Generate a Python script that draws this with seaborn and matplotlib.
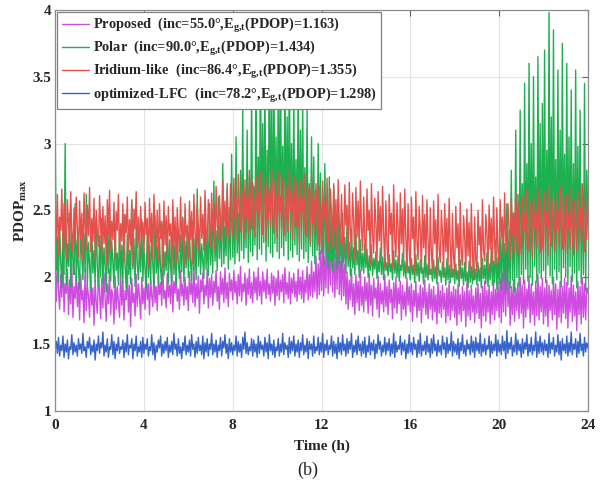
import numpy as np
import pandas as pd
import matplotlib
matplotlib.use("Agg")
import matplotlib.pyplot as plt
import seaborn as sns

# time axis (h), one sample every 3 min
time_h = np.round(np.arange(0, 24.001, 0.05), 2)

# PDOP_max (one row = one hour)
proposed = [
    2.08, 1.82, 2.15, 1.90, 1.76, 2.02, 1.85, 2.20, 1.74, 1.95, 1.88, 2.06, 1.72, 1.98, 1.80, 2.10, 1.70, 1.93, 1.84, 2.04,
    1.78, 1.96, 1.68, 2.02, 1.83, 1.90, 1.66, 2.07, 1.75, 1.94, 1.86, 1.70, 2.00, 1.79, 1.92, 1.64, 1.98, 1.81, 1.73, 2.05,
    1.87, 1.69, 1.99, 1.77, 2.03, 1.84, 1.67, 1.95, 1.80, 2.06, 1.72, 1.91, 1.85, 1.65, 2.01, 1.76, 1.93, 1.82, 1.70, 2.04,
    1.79, 1.97, 1.68, 1.90, 1.83, 2.05, 1.74, 1.94, 1.63, 1.99, 1.81, 1.88, 1.71, 2.02, 1.78, 1.95, 1.85, 1.69, 2.00, 1.80,
    1.92, 1.76, 2.04, 1.83, 1.95, 1.72, 1.99, 1.86, 1.78, 2.06, 1.81, 1.93, 1.75, 2.01, 1.87, 1.96, 1.79, 2.05, 1.84, 1.90,
    1.77, 2.03, 1.85, 1.94, 1.80, 2.07, 1.74, 1.97, 1.88, 2.02, 1.82, 1.91, 1.76, 2.05, 1.86, 1.95, 1.79, 2.00, 1.83, 1.93,
    1.75, 2.04, 1.87, 1.96, 1.81, 2.08, 1.78, 1.95, 1.84, 2.01, 1.73, 1.98, 1.89, 2.03, 1.80, 1.94, 1.86, 2.06, 1.77, 1.99,
    1.85, 2.02, 1.79, 1.97, 1.88, 2.05, 1.82, 1.93, 1.76, 2.04, 1.87, 1.99, 1.81, 2.07, 1.84, 1.96, 1.78, 2.03, 1.89, 1.98,
    1.83, 2.05, 1.88, 1.97, 1.80, 2.02, 1.86, 2.08, 1.82, 1.95, 1.89, 2.03, 1.79, 1.99, 1.87, 2.06, 1.84, 1.96, 1.81, 2.04,
    1.88, 2.00, 1.83, 2.07, 1.86, 1.97, 1.80, 2.04, 1.89, 1.98, 1.84, 2.06, 1.87, 1.95, 1.82, 2.03, 1.88, 2.01, 1.79, 1.99,
    1.86, 2.05, 1.83, 1.98, 1.89, 2.02, 1.81, 2.07, 1.87, 1.96, 1.84, 2.04, 1.80, 1.99, 1.88, 2.03, 1.85, 1.97, 1.82, 2.06,
    1.87, 2.00, 1.84, 2.05, 1.81, 1.98, 1.88, 2.08, 1.83, 2.02, 1.86, 2.12, 1.85, 2.04, 1.89, 2.16, 1.84, 2.10, 1.87, 2.20,
    1.90, 2.28, 1.86, 2.15, 1.92, 2.38, 1.88, 2.22, 1.94, 2.45, 1.89, 2.30, 1.85, 2.18, 1.91, 2.35, 1.87, 2.12, 1.83, 2.25,
    1.86, 2.10, 1.80, 2.04, 1.76, 1.98, 1.83, 2.06, 1.78, 1.95, 1.72, 2.02, 1.81, 1.97, 1.75, 2.05, 1.79, 1.93, 1.74, 2.00,
    1.82, 1.96, 1.73, 2.03, 1.79, 1.94, 1.71, 1.99, 1.84, 1.92, 1.76, 2.01, 1.70, 1.95, 1.80, 1.90, 1.74, 2.02, 1.78, 1.93,
    1.72, 1.98, 1.81, 1.91, 1.69, 1.96, 1.77, 2.00, 1.73, 1.92, 1.80, 1.97, 1.68, 1.94, 1.76, 1.89, 1.71, 1.99, 1.79, 1.93,
    1.74, 1.95, 1.67, 1.90, 1.78, 1.97, 1.70, 1.88, 1.75, 1.94, 1.66, 1.92, 1.77, 1.98, 1.72, 1.89, 1.69, 1.95, 1.76, 1.91,
    1.68, 1.93, 1.74, 1.87, 1.65, 1.96, 1.73, 1.90, 1.70, 1.94, 1.76, 1.88, 1.66, 1.92, 1.71, 1.97, 1.68, 1.89, 1.75, 1.93,
    1.70, 1.91, 1.64, 1.95, 1.72, 1.87, 1.67, 1.93, 1.75, 1.89, 1.63, 1.96, 1.71, 1.90, 1.68, 1.94, 1.74, 1.86, 1.66, 1.92,
    1.73, 1.95, 1.69, 1.88, 1.62, 1.93, 1.71, 1.97, 1.67, 1.90, 1.74, 1.94, 1.65, 1.89, 1.72, 1.98, 1.68, 1.91, 1.75, 1.96,
    1.70, 1.99, 1.66, 2.03, 1.74, 2.12, 1.71, 2.22, 1.78, 1.97, 1.64, 1.93, 1.72, 1.98, 1.67, 1.92, 1.75, 1.96, 1.69, 2.00,
    1.73, 1.94, 1.62, 1.98, 1.70, 1.91, 1.76, 2.01, 1.66, 1.95, 1.72, 1.89, 1.64, 1.97, 1.71, 2.02, 1.68, 1.93, 1.74, 1.99,
    1.65, 1.92, 1.71, 1.98, 1.63, 1.94, 1.75, 1.90, 1.68, 2.00, 1.72, 1.95, 1.61, 1.91, 1.70, 1.97, 1.66, 1.93, 1.73, 1.99,
    1.69, 1.96, 1.62, 1.92, 1.74, 2.01, 1.67, 1.94, 1.71, 1.89, 1.60, 1.97, 1.72, 1.93, 1.65, 1.99, 1.70, 1.95, 1.68, 1.92,
    1.88,
]

polar = [
    3.18, 2.05, 2.30, 1.96, 2.42, 2.10, 1.92, 2.38, 2.02, 3.00, 1.95, 2.25, 2.08, 2.48, 1.93, 2.34, 2.12, 2.02, 2.55, 1.97,
    2.28, 2.06, 1.91, 2.40, 2.15, 1.98, 2.33, 2.04, 2.62, 1.94, 2.26, 2.10, 1.90, 2.37, 2.03, 2.20, 1.96, 2.45, 2.07, 1.93,
    2.31, 2.00, 2.44, 1.95, 2.22, 2.09, 1.89, 2.35, 2.03, 2.52, 1.97, 2.27, 2.11, 1.92, 2.41, 2.05, 2.18, 1.94, 2.36, 2.01,
    2.24, 1.96, 2.47, 2.08, 1.91, 2.32, 2.02, 2.20, 1.95, 2.58, 2.06, 2.29, 1.93, 2.39, 2.10, 1.98, 2.26, 2.04, 2.43, 1.97,
    2.21, 2.07, 1.92, 2.38, 2.00, 2.25, 1.95, 2.34, 2.09, 1.93, 2.46, 2.03, 2.23, 1.96, 2.30, 2.06, 1.94, 2.40, 2.01, 2.19,
    2.05, 2.37, 1.95, 2.28, 2.08, 1.97, 2.50, 2.02, 2.24, 1.94, 2.35, 2.10, 1.99, 2.31, 2.04, 2.45, 1.96, 2.27, 2.07, 2.39,
    2.00, 2.33, 2.11, 1.97, 2.42, 2.05, 2.29, 1.98, 2.66, 2.08, 2.36, 2.02, 2.25, 2.12, 1.99, 2.48, 2.06, 2.31, 2.01, 2.55,
    2.09, 2.40, 2.03, 2.72, 2.12, 2.35, 2.05, 2.60, 2.14, 2.44, 2.08, 2.85, 2.10, 2.38, 2.16, 2.70, 2.06, 2.52, 2.13, 2.92,
    2.15, 2.58, 2.10, 3.05, 2.18, 2.48, 2.12, 2.80, 2.20, 3.25, 2.14, 2.62, 2.22, 3.10, 2.11, 2.75, 2.19, 3.40, 2.16, 2.68,
    2.24, 3.60, 2.13, 2.90, 2.21, 3.80, 2.17, 3.15, 2.26, 3.50, 2.12, 2.95, 2.23, 3.95, 2.18, 3.30, 2.15, 3.70, 2.25, 3.05,
    2.19, 3.45, 2.14, 3.85, 2.22, 2.98, 2.16, 3.60, 2.27, 3.20, 2.13, 3.75, 2.20, 3.00, 2.15, 3.40, 2.24, 2.88, 2.17, 3.55,
    2.12, 3.10, 2.21, 3.35, 2.14, 2.82, 2.19, 3.25, 2.11, 2.70, 2.23, 3.05, 2.16, 2.90, 2.10, 2.65, 2.20, 3.00, 2.13, 2.78,
    2.18, 2.60, 2.09, 2.85, 2.15, 2.50, 2.07, 2.75, 2.12, 2.45, 2.05, 2.68, 2.14, 2.40, 2.06, 2.58, 2.10, 2.35, 2.04, 2.48,
    2.11, 2.30, 2.03, 2.42, 2.08, 2.26, 2.01, 2.36, 2.07, 2.22, 2.02, 2.33, 2.09, 2.20, 2.00, 2.28, 2.05, 2.18, 2.03, 2.25,
    2.07, 2.21, 2.00, 2.16, 2.05, 2.24, 2.01, 2.14, 2.06, 2.19, 1.99, 2.12, 2.04, 2.22, 2.02, 2.15, 1.98, 2.18, 2.05, 2.11,
    2.01, 2.17, 2.04, 2.10, 1.98, 2.20, 2.03, 2.13, 2.00, 2.16, 1.97, 2.09, 2.05, 2.18, 2.01, 2.12, 1.99, 2.15, 2.03, 2.08,
    1.98, 2.14, 2.02, 2.09, 1.96, 2.17, 2.01, 2.11, 1.97, 2.13, 2.03, 2.07, 1.95, 2.16, 2.00, 2.10, 1.98, 2.12, 2.02, 2.06,
    1.97, 2.13, 1.99, 2.08, 1.95, 2.15, 2.01, 2.05, 1.96, 2.11, 2.00, 2.07, 1.94, 2.14, 1.98, 2.09, 1.96, 2.12, 2.00, 2.06,
    1.95, 2.10, 1.98, 2.05, 1.93, 2.13, 1.99, 2.07, 1.94, 2.11, 1.97, 2.04, 1.92, 2.12, 1.96, 2.08, 1.95, 2.15, 1.98, 2.06,
    1.94, 2.11, 1.97, 2.07, 1.92, 2.14, 1.99, 2.09, 1.95, 2.18, 1.93, 2.10, 1.98, 2.22, 1.94, 2.12, 1.96, 2.28, 1.91, 2.15,
    1.95, 2.30, 1.90, 2.42, 1.97, 2.25, 1.88, 2.55, 1.96, 2.35, 1.92, 2.80, 1.98, 2.48, 1.89, 3.10, 2.00, 2.62, 1.93, 3.25,
    2.02, 2.70, 1.95, 3.45, 2.06, 2.85, 1.97, 3.60, 2.00, 3.00, 1.94, 3.50, 2.08, 2.75, 1.96, 3.65, 2.03, 3.15, 1.99, 3.30,
    2.05, 3.70, 1.96, 2.95, 2.09, 3.98, 2.01, 3.20, 1.95, 3.85, 2.06, 2.88, 1.98, 3.55, 2.04, 3.10, 1.93, 3.75, 2.07, 2.92,
    2.00, 3.60, 1.94, 3.05, 2.08, 3.40, 1.97, 2.85, 2.03, 3.55, 1.92, 2.98, 2.05, 3.25, 1.95, 2.70, 2.02, 3.45, 1.90, 2.80,
    2.45,
]

iridium = [
    2.50, 2.28, 2.62, 2.17, 2.45, 2.35, 2.66, 2.20, 2.55, 2.30, 2.14, 2.58, 2.40, 2.22, 2.64, 2.33, 2.18, 2.52, 2.26, 2.60,
    2.38, 2.15, 2.57, 2.29, 2.48, 2.12, 2.63, 2.36, 2.21, 2.54, 2.31, 2.67, 2.19, 2.44, 2.27, 2.59, 2.13, 2.50, 2.34, 2.23,
    2.61, 2.37, 2.16, 2.53, 2.25, 2.46, 2.10, 2.58, 2.32, 2.65, 2.20, 2.42, 2.28, 2.56, 2.14, 2.49, 2.35, 2.62, 2.18, 2.40,
    2.27, 2.55, 2.11, 2.47, 2.33, 2.60, 2.19, 2.43, 2.24, 2.57, 2.09, 2.51, 2.36, 2.64, 2.22, 2.45, 2.15, 2.53, 2.30, 2.41,
    2.18, 2.56, 2.32, 2.44, 2.08, 2.59, 2.26, 2.48, 2.14, 2.62, 2.35, 2.21, 2.50, 2.12, 2.55, 2.29, 2.42, 2.07, 2.57, 2.24,
    2.46, 2.16, 2.53, 2.31, 2.40, 2.06, 2.58, 2.23, 2.45, 2.11, 2.52, 2.34, 2.19, 2.60, 2.27, 2.43, 2.09, 2.55, 2.30, 2.38,
    2.14, 2.57, 2.28, 2.49, 2.10, 2.62, 2.33, 2.22, 2.54, 2.37, 2.17, 2.60, 2.29, 2.47, 2.20, 2.65, 2.36, 2.25, 2.58, 2.41,
    2.23, 2.63, 2.35, 2.55, 2.19, 2.68, 2.40, 2.28, 2.61, 2.44, 2.26, 2.72, 2.38, 2.57, 2.30, 2.66, 2.42, 2.27, 2.70, 2.47,
    2.31, 2.74, 2.45, 2.60, 2.28, 2.77, 2.50, 2.34, 2.68, 2.52, 2.29, 2.73, 2.43, 2.62, 2.33, 2.80, 2.48, 2.36, 2.71, 2.55,
    2.30, 2.76, 2.49, 2.63, 2.35, 2.79, 2.46, 2.32, 2.70, 2.54, 2.27, 2.75, 2.44, 2.66, 2.38, 2.82, 2.51, 2.33, 2.72, 2.57,
    2.29, 2.78, 2.47, 2.61, 2.36, 2.74, 2.52, 2.31, 2.69, 2.45, 2.34, 2.80, 2.50, 2.64, 2.28, 2.76, 2.43, 2.37, 2.71, 2.53,
    2.26, 2.73, 2.48, 2.59, 2.32, 2.77, 2.42, 2.30, 2.67, 2.51, 2.25, 2.75, 2.40, 2.63, 2.33, 2.70, 2.46, 2.24, 2.68, 2.39,
    2.21, 2.72, 2.44, 2.56, 2.27, 2.74, 2.37, 2.19, 2.66, 2.47, 2.23, 2.70, 2.35, 2.58, 2.16, 2.73, 2.41, 2.25, 2.62, 2.30,
    2.18, 2.69, 2.39, 2.54, 2.14, 2.71, 2.34, 2.22, 2.63, 2.42, 2.12, 2.67, 2.30, 2.57, 2.17, 2.72, 2.37, 2.20, 2.60, 2.28,
    2.13, 2.66, 2.35, 2.50, 2.09, 2.70, 2.31, 2.18, 2.59, 2.40, 2.11, 2.64, 2.27, 2.53, 2.15, 2.68, 2.33, 2.07, 2.57, 2.24,
    2.10, 2.62, 2.32, 2.48, 2.06, 2.69, 2.28, 2.15, 2.56, 2.38, 2.08, 2.63, 2.25, 2.51, 2.12, 2.66, 2.30, 2.04, 2.55, 2.21,
    2.07, 2.60, 2.29, 2.45, 2.03, 2.64, 2.26, 2.13, 2.53, 2.35, 2.05, 2.61, 2.22, 2.47, 2.10, 2.58, 2.27, 2.02, 2.52, 2.18,
    2.06, 2.57, 2.25, 2.43, 2.01, 2.62, 2.21, 2.11, 2.50, 2.32, 2.03, 2.55, 2.19, 2.44, 2.08, 2.59, 2.24, 2.00, 2.48, 2.15,
    2.04, 2.53, 2.22, 2.40, 1.99, 2.56, 2.18, 2.09, 2.46, 2.30, 2.02, 2.51, 2.16, 2.41, 2.06, 2.55, 2.20, 1.98, 2.45, 2.13,
    2.05, 2.50, 2.24, 2.38, 2.01, 2.58, 2.20, 2.12, 2.47, 2.33, 2.04, 2.54, 2.21, 2.44, 2.10, 2.60, 2.26, 2.08, 2.52, 2.19,
    2.12, 2.58, 2.30, 2.45, 2.15, 2.63, 2.27, 2.20, 2.55, 2.38, 2.14, 2.61, 2.32, 2.48, 2.18, 2.64, 2.35, 2.16, 2.57, 2.29,
    2.17, 2.60, 2.34, 2.47, 2.21, 2.65, 2.31, 2.19, 2.56, 2.40, 2.15, 2.62, 2.36, 2.50, 2.22, 2.66, 2.33, 2.18, 2.59, 2.27,
    2.20, 2.63, 2.37, 2.49, 2.16, 2.67, 2.32, 2.23, 2.58, 2.43, 2.19, 2.64, 2.35, 2.51, 2.24, 2.68, 2.39, 2.21, 2.61, 2.30,
    2.18, 2.62, 2.36, 2.48, 2.22, 2.66, 2.34, 2.17, 2.57, 2.41, 2.20, 2.65, 2.38, 2.52, 2.25, 2.69, 2.31, 2.19, 2.60, 2.28,
    2.55,
]

lfc = [
    1.47, 1.52, 1.43, 1.55, 1.41, 1.49, 1.45, 1.56, 1.40, 1.50, 1.44, 1.53, 1.39, 1.48, 1.46, 1.57, 1.42, 1.51, 1.44, 1.49,
    1.41, 1.54, 1.46, 1.50, 1.43, 1.58, 1.45, 1.48, 1.40, 1.52, 1.47, 1.55, 1.42, 1.49, 1.44, 1.53, 1.38, 1.50, 1.45, 1.56,
    1.43, 1.51, 1.47, 1.59, 1.41, 1.49, 1.44, 1.54, 1.40, 1.48, 1.46, 1.57, 1.42, 1.52, 1.39, 1.50, 1.45, 1.55, 1.43, 1.48,
    1.46, 1.53, 1.40, 1.51, 1.44, 1.57, 1.42, 1.49, 1.47, 1.54, 1.39, 1.50, 1.45, 1.56, 1.41, 1.48, 1.44, 1.52, 1.40, 1.55,
    1.43, 1.50, 1.46, 1.54, 1.41, 1.48, 1.45, 1.57, 1.42, 1.51, 1.38, 1.49, 1.44, 1.53, 1.47, 1.56, 1.41, 1.50, 1.43, 1.52,
    1.45, 1.55, 1.40, 1.49, 1.44, 1.52, 1.42, 1.58, 1.46, 1.50, 1.41, 1.54, 1.43, 1.48, 1.39, 1.51, 1.45, 1.56, 1.42, 1.49,
    1.44, 1.53, 1.41, 1.57, 1.46, 1.50, 1.40, 1.52, 1.43, 1.55, 1.45, 1.49, 1.42, 1.56, 1.39, 1.51, 1.44, 1.54, 1.41, 1.50,
    1.46, 1.58, 1.42, 1.50, 1.44, 1.53, 1.40, 1.49, 1.45, 1.55, 1.41, 1.52, 1.47, 1.57, 1.43, 1.50, 1.39, 1.54, 1.44, 1.51,
    1.42, 1.49, 1.45, 1.56, 1.41, 1.52, 1.44, 1.50, 1.40, 1.55, 1.46, 1.59, 1.43, 1.51, 1.42, 1.48, 1.45, 1.54, 1.41, 1.53,
    1.44, 1.50, 1.40, 1.56, 1.43, 1.52, 1.46, 1.49, 1.41, 1.55, 1.44, 1.51, 1.39, 1.57, 1.45, 1.50, 1.42, 1.53, 1.40, 1.48,
    1.45, 1.54, 1.41, 1.50, 1.44, 1.58, 1.42, 1.51, 1.46, 1.49, 1.40, 1.55, 1.43, 1.52, 1.45, 1.56, 1.41, 1.50, 1.44, 1.53,
    1.40, 1.51, 1.45, 1.57, 1.42, 1.49, 1.44, 1.54, 1.39, 1.52, 1.46, 1.50, 1.41, 1.56, 1.43, 1.48, 1.45, 1.55, 1.42, 1.51,
    1.44, 1.58, 1.40, 1.50, 1.45, 1.53, 1.42, 1.49, 1.46, 1.56, 1.41, 1.52, 1.43, 1.50, 1.39, 1.55, 1.44, 1.51, 1.42, 1.57,
    1.45, 1.50, 1.41, 1.54, 1.43, 1.52, 1.46, 1.58, 1.40, 1.49, 1.44, 1.53, 1.42, 1.56, 1.45, 1.50, 1.41, 1.52, 1.43, 1.55,
    1.40, 1.49, 1.44, 1.56, 1.42, 1.51, 1.45, 1.53, 1.39, 1.50, 1.43, 1.57, 1.46, 1.52, 1.41, 1.49, 1.44, 1.55, 1.42, 1.51,
    1.45, 1.54, 1.41, 1.50, 1.43, 1.58, 1.40, 1.52, 1.44, 1.49, 1.46, 1.56, 1.42, 1.51, 1.45, 1.53, 1.39, 1.50, 1.43, 1.57,
    1.44, 1.51, 1.42, 1.55, 1.46, 1.50, 1.40, 1.53, 1.43, 1.58, 1.41, 1.49, 1.45, 1.52, 1.42, 1.56, 1.44, 1.50, 1.40, 1.54,
    1.43, 1.57, 1.45, 1.50, 1.41, 1.53, 1.44, 1.49, 1.42, 1.56, 1.46, 1.51, 1.40, 1.55, 1.43, 1.50, 1.45, 1.59, 1.41, 1.52,
    1.44, 1.50, 1.42, 1.54, 1.39, 1.51, 1.45, 1.57, 1.43, 1.49, 1.41, 1.53, 1.46, 1.50, 1.42, 1.56, 1.44, 1.52, 1.40, 1.55,
    1.45, 1.51, 1.43, 1.58, 1.41, 1.50, 1.44, 1.54, 1.42, 1.49, 1.46, 1.56, 1.40, 1.52, 1.43, 1.50, 1.45, 1.57, 1.41, 1.53,
    1.44, 1.50, 1.42, 1.56, 1.45, 1.52, 1.39, 1.60, 1.43, 1.51, 1.46, 1.55, 1.41, 1.49, 1.44, 1.58, 1.42, 1.53, 1.45, 1.50,
    1.40, 1.54, 1.43, 1.51, 1.46, 1.57, 1.41, 1.50, 1.44, 1.55, 1.42, 1.49, 1.45, 1.59, 1.40, 1.52, 1.43, 1.56, 1.44, 1.51,
    1.42, 1.53, 1.45, 1.50, 1.40, 1.58, 1.43, 1.51, 1.46, 1.55, 1.41, 1.49, 1.44, 1.57, 1.42, 1.52, 1.38, 1.54, 1.45, 1.50,
    1.43, 1.56, 1.41, 1.51, 1.44, 1.59, 1.42, 1.50, 1.46, 1.54, 1.40, 1.52, 1.43, 1.58, 1.45, 1.50, 1.41, 1.55, 1.44, 1.51,
    1.47,
]

schemes = ["Proposed", "Polar", "Iridium-like", "optimized-LFC"]
legend_labels = [
    r"Proposed  (inc=55.0°,E$_{\mathrm{g{,}t}}$(PDOP)=1.163)",
    r"Polar  (inc=90.0°,E$_{\mathrm{g{,}t}}$(PDOP)=1.434)",
    r"Iridium-like  (inc=86.4°,E$_{\mathrm{g{,}t}}$(PDOP)=1.355)",
    r"optimized-LFC  (inc=78.2°,E$_{\mathrm{g{,}t}}$(PDOP)=1.298)",
]
colors = ["#CF4CE0", "#1DAF50", "#E6504C", "#3563CC"]


def plot():
    series = [proposed, polar, iridium, lfc]
    for name, vals in zip(schemes, series):
        assert len(vals) == len(time_h), f"{name}: {len(vals)} vs {len(time_h)}"

    frames = []
    for name, vals in zip(schemes, series):
        frames.append(pd.DataFrame({"Time": time_h, "PDOP": vals, "Scheme": name}))
    df = pd.concat(frames, ignore_index=True)

    sns.set_theme(style="whitegrid")
    plt.rcParams["font.family"] = ["Liberation Serif", "DejaVu Serif"]
    plt.rcParams["font.weight"] = "bold"
    plt.rcParams["mathtext.fontset"] = "custom"
    plt.rcParams["mathtext.rm"] = "Liberation Serif:bold"
    plt.rcParams["mathtext.it"] = "Liberation Serif:bold"
    plt.rcParams["mathtext.bf"] = "Liberation Serif:bold"

    fig = plt.figure(figsize=(6.13, 4.95), dpi=100)
    ax = fig.add_axes([0.09, 0.17, 0.869, 0.81])

    sns.lineplot(
        data=df, x="Time", y="PDOP", hue="Scheme", hue_order=schemes,
        palette=dict(zip(schemes, colors)), estimator=None, sort=False,
        linewidth=1.0, ax=ax,
    )

    ax.set_xlim(0, 24)
    ax.set_ylim(1, 4)
    ax.set_xticks(range(0, 25, 4))
    ax.set_yticks([1, 1.5, 2, 2.5, 3, 3.5, 4])
    ax.set_yticklabels(["1", "1.5", "2", "2.5", "3", "3.5", "4"])
    ax.set_facecolor("white")
    ax.grid(True, color="#e3e3e3", linewidth=0.8)
    for sp in ax.spines.values():
        sp.set_visible(True)
        sp.set_color("#8c8c8c")
        sp.set_linewidth(0.9)
    ax.tick_params(direction="in", length=4, width=0.8, color="#606060",
                   top=True, right=True, labelsize=11)
    ax.tick_params(axis="x", pad=6)
    ax.tick_params(axis="y", pad=3)
    for lab in ax.get_xticklabels() + ax.get_yticklabels():
        lab.set_fontweight("bold")

    ax.set_xlabel("Time (h)", fontsize=11, fontweight="bold", labelpad=5)
    ax.set_ylabel(r"PDOP$_{\mathrm{max}}$", fontsize=11, fontweight="bold", labelpad=2)

    handles, _ = ax.get_legend_handles_labels()
    leg = ax.legend(
        handles, legend_labels, loc="upper left", fontsize=10.4, frameon=True,
        fancybox=False, framealpha=1, edgecolor="#808080", borderaxespad=0.15,
        handlelength=1.9, handletextpad=0.3, labelspacing=0.28, borderpad=0.3,
    )
    leg.get_frame().set_linewidth(0.9)
    for t in leg.get_texts():
        t.set_fontweight("bold")

    fig.text(0.502, 0.05, "(b)", ha="center", va="center", fontsize=13,
             fontweight="normal")

    fig.savefig("out.png", dpi=100, facecolor="white")


if __name__ == "__main__":
    plot()
